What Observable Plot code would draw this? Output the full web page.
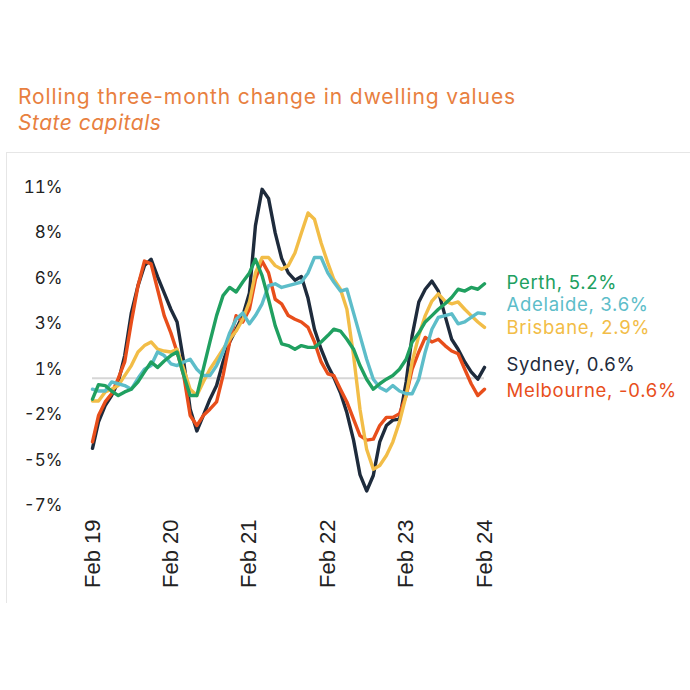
<!DOCTYPE html>
<html><head><meta charset="utf-8">
<script src="https://cdn.jsdelivr.net/npm/d3@7"></script>
<script src="https://cdn.jsdelivr.net/npm/@observablehq/plot@0.6"></script>
<style>
body{margin:0;background:#fff;width:690px;height:690px;position:relative;overflow:hidden;font-family:Inter,"Open Sans",sans-serif}
#title{position:absolute;left:18px;top:84px;color:#e8803f;font-size:21px;line-height:26px;letter-spacing:0.9px;white-space:nowrap}
#sub{font-style:italic;letter-spacing:0.5px}
#frame{position:absolute;left:6px;top:152px;width:700px;height:450px;border-top:1px solid #e6e6e6;border-left:1px solid #e6e6e6}
#chart{position:absolute;left:0;top:152px}
</style></head>
<body>
<div id="title"><div>Rolling three-month change in dwelling values</div><div id="sub">State capitals</div></div>
<div id="frame"></div>
<div id="chart"></div>
<script>
// Monthly, Feb 2019 .. Feb 2024 (61 months)
const startMonth = new Date(Date.UTC(2019, 1, 1));
const endMonth = new Date(Date.UTC(2024, 1, 1));
const months = d3.utcMonth.range(startMonth, d3.utcMonth.offset(endMonth, 1));
const tickYears = [2019, 2020, 2021, 2022, 2023, 2024];
const yTicks = [-7, -4.5, -2, 0.5, 3, 5.5, 8, 10.5];

const sydney = [-3.85,-2.4,-1.5,-0.95,-0.2,1.25,3.6,5.1,6.2,6.55,
  5.6,4.7,3.8,3.1,0.9,-1.7,-2.9,-2.05,-1.15,-0.4,
  0.9,2.0,2.7,3.45,4.7,8.4,10.4,9.9,8.0,6.6,
  5.8,5.4,5.6,4.4,2.7,1.6,0.7,0.05,-0.8,-1.9,
  -3.4,-5.3,-6.2,-5.35,-3.5,-2.6,-2.3,-2.25,-0.2,2.35,
  4.2,4.9,5.35,4.8,3.45,2.15,1.6,0.9,0.35,-0.05,0.6];
const melbourne = [-3.5,-2.05,-1.3,-0.85,0,0.9,3.1,5.1,6.45,6.3,
  4.9,3.45,2.5,1.45,0.15,-2.05,-2.6,-2.05,-1.7,-1.3,
  0.15,2.0,3.45,3.1,3.8,5.45,6.45,5.8,4.35,4.1,
  3.45,3.25,3.1,2.8,2.0,0.9,0.25,0.15,-0.6,-1.3,
  -2.25,-3.15,-3.4,-3.35,-2.6,-2.15,-2.15,-1.95,-0.95,0.5,
  1.45,2.25,2.0,2.15,1.8,1.5,1.35,0.5,-0.3,-0.95,-0.6];
const brisbane = [-1.25,-1.25,-0.75,-0.6,-0.4,0.15,0.7,1.45,1.8,2.0,
  1.6,1.5,1.45,1.6,0.5,-0.6,-0.95,-0.2,0.5,1.05,
  1.6,2.15,2.6,3.25,4.2,5.8,6.65,6.65,6.2,6.0,
  6.2,6.9,8.0,9.1,8.75,7.45,6.35,5.45,4.9,3.8,
  1.25,-1.7,-3.9,-5.0,-4.8,-4.25,-3.5,-2.4,-0.95,0.9,
  2.35,3.45,4.25,4.65,4.25,4.1,4.2,3.8,3.45,3.1,2.8];
const adelaide = [-0.6,-0.7,-0.7,-0.2,-0.3,-0.4,-0.6,0,0.5,0.7,
  1.45,1.25,0.8,0.7,0.9,1.05,0.5,0.15,0.15,0.7,
  1.45,2.5,3.25,3.6,3.0,3.45,4.1,5.1,5.2,5.0,
  5.1,5.2,5.3,5.8,6.65,6.65,5.8,5.3,4.8,4.9,
  3.6,2.35,1.05,-0.05,-0.5,-0.7,-0.4,-0.7,-0.85,-0.85,
  -0.05,1.45,2.7,3.35,3.45,3.55,3.0,3.1,3.35,3.6,3.55];
const perth = [-1.15,-0.35,-0.4,-0.7,-0.95,-0.75,-0.6,-0.2,0.35,0.9,
  0.6,0.95,1.25,1.45,0.15,-0.95,-0.95,0.5,2.0,3.45,
  4.55,5.0,4.75,5.3,5.8,6.55,5.65,4.35,2.9,1.9,
  1.8,1.6,1.8,1.7,1.7,2.0,2.35,2.7,2.6,2.15,
  1.6,0.7,-0.05,-0.6,-0.3,-0.05,0.15,0.5,1.05,2.0,
  2.5,3.1,3.45,3.8,4.1,4.45,4.9,4.8,5.0,4.9,5.2];

const seriesNames = ["Sydney","Melbourne","Brisbane","Adelaide","Perth"];
const seriesLabels = ["Sydney, 0.6%","Melbourne, -0.6%","Brisbane, 2.9%","Adelaide, 3.6%","Perth, 5.2%"];
const seriesValues = [sydney, melbourne, brisbane, adelaide, perth];
const colors = ["#1e2b3c","#e84e1b","#f2bd47","#5dbdc9","#20a060"];
const labelDy = [-2, 2, 1, -9, -1];

const fmtPct = v => (v < 0 ? "-" : "") + Math.round(Math.abs(v)) + "%";

const marks = [Plot.ruleY([0], {stroke:"#d6d6d6", strokeWidth:2})];
seriesValues.forEach((vals, k) => {
  const rows = vals.map((v, i) => ({date: months[i], v}));
  marks.push(Plot.line(rows, {x:"date", y:"v", stroke: colors[k], strokeWidth:3.4, strokeLinejoin:"round", strokeLinecap:"round"}));
});
seriesValues.forEach((vals, k) => {
  marks.push(Plot.text([{date: months[months.length-1], v: vals[vals.length-1]}], {
    x:"date", y:"v", text: () => seriesLabels[k], fill: colors[k], textAnchor:"start",
    dx: 22, dy: labelDy[k], fontSize: 18.5, fontFamily: "Inter, sans-serif"
  }));
});
marks.push(Plot.axisY({ticks: yTicks, tickFormat: fmtPct, tickSize:0, tickPadding:30, fontSize:17, fontFamily:"Inter, sans-serif", fill:"#222", label:null}));
marks.push(Plot.axisX({ticks: tickYears.map(y => new Date(Date.UTC(y,1,1))), tickFormat: d => "Feb " + String(d.getUTCFullYear()).slice(2),
  tickRotate:-90, tickSize:0, tickPadding:14, fontSize:22, fontFamily:"'Liberation Sans', Arial, sans-serif", fill:"#222", label:null}));

const chart = Plot.plot({
  width: 690, height: 448,
  marginLeft: 92, marginRight: 206, marginTop: 35, marginBottom: 95,
  x: {type:"utc", domain:[startMonth, endMonth]},
  y: {domain:[-7, 10.5]},
  style: {background:"transparent", overflow:"visible"},
  marks
});
d3.select(chart).selectAll("g[aria-label='text'] text").attr("letter-spacing", "0.7px");
document.getElementById("chart").appendChild(chart);
</script>
</body></html>
